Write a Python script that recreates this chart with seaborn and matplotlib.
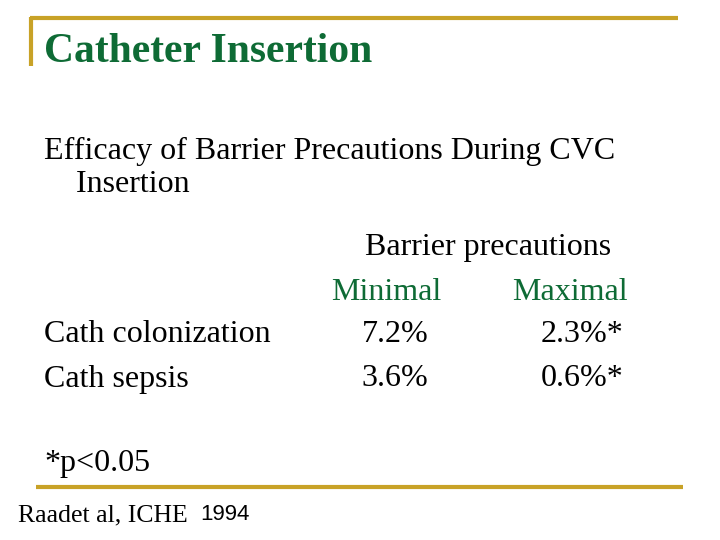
import matplotlib
matplotlib.use("Agg")
import matplotlib.pyplot as plt
import seaborn as sns

sns.set_theme(style="white")
plt.rcParams['font.family'] = ['Liberation Serif', 'DejaVu Serif']

title = "Catheter Insertion"
subtitle = "Efficacy of Barrier Precautions During CVC\n    Insertion"
group_label = "Barrier precautions"
columns = ["Minimal", "Maximal"]
rows = ["Cath colonization", "Cath sepsis"]
minimal = ["7.2%", "3.6%"]
maximal = ["2.3%*", "0.6%*"]
footnote = "*p<0.05"
source = "Raadet al, ICHE"
source_year = "1994"

green = "#0E6B35"
gold = "#C8A227"
fs = 23

fig = plt.figure(figsize=(7.2, 5.4), dpi=100)
ax = fig.add_axes([0, 0, 1, 1])
ax.set_xlim(0, 720)
ax.set_ylim(540, 0)
ax.axis("off")

ax.plot([30, 678], [18, 18], color=gold, lw=3, solid_capstyle="butt")
ax.plot([31, 31], [17, 66], color=gold, lw=3, solid_capstyle="butt")
ax.plot([36, 683], [487, 487], color=gold, lw=3, solid_capstyle="butt")

ax.text(44, 52, title, color=green, fontsize=30, fontweight="bold", va="center", ha="left")
ax.text(44, 168, subtitle, color="black", fontsize=fs, va="center", ha="left", linespacing=1.2)
ax.text(488, 248, group_label, color="black", fontsize=fs, va="center", ha="center")
ax.text(386, 292, columns[0], color=green, fontsize=fs, va="center", ha="center")
ax.text(570, 292, columns[1], color=green, fontsize=fs, va="center", ha="center")
ys = [335, 379]
for y, r, a, b in zip(ys, rows, minimal, maximal):
    ax.text(44, y, r, color="black", fontsize=fs, va="center", ha="left")
    ax.text(395, y, a, color="black", fontsize=fs, va="center", ha="center")
    ax.text(582, y, b, color="black", fontsize=fs, va="center", ha="center")
ax.text(44, 463, footnote, color="black", fontsize=fs, va="center", ha="left")
ax.text(18, 515, source, color="black", fontsize=18.5, va="center", ha="left")
ax.text(200, 515, source_year, color="black", fontsize=16, va="center", ha="left",
        family="Liberation Sans")

fig.savefig("out.png", dpi=100)
